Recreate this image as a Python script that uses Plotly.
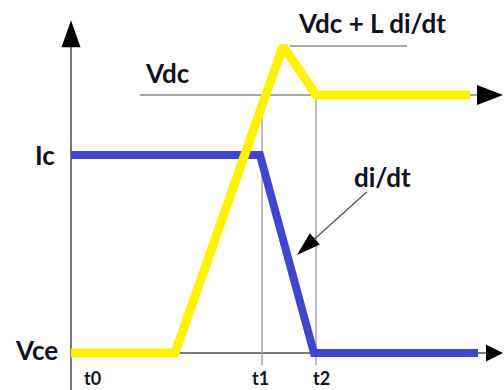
import math
import plotly.graph_objects as go

# Switching waveforms (time in arbitrary units, voltage normalised to Vdc = 1)
t_vce = [0.0, 2.08, 4.24, 4.9, 7.98]
v_vce = [0.0, 0.0, 1.19, 1.0, 1.0]

t_ic = [0.0, 3.78, 4.86, 8.14]
i_c = [0.767, 0.767, 0.0, 0.0]

# Marked instants and levels
t_marks = {"t0": 0.0, "t1": 3.82, "t2": 4.9}
V_DC = 1.0
V_PEAK = 1.19
I_C = 0.767

# Axis extents
X_RANGE = [-1.42, 8.66]
Y_RANGE = [-0.143, 1.368]
X_TIP = 8.64
Y_TIP = 1.29

W, H = 504, 390
PX_X = W / (X_RANGE[1] - X_RANGE[0])
PX_Y = H / (Y_RANGE[1] - Y_RANGE[0])

YELLOW = "#FFF200"
BLUE = "#3F48CC"
AXIS_GREY = "#7a7a7a"
GUIDE_GREY = "#a6a6a6"
TEXT = "#111122"
FONT = "Lato"

fig = go.Figure()

fig.add_trace(go.Scatter(x=t_ic, y=i_c, mode="lines",
                         line=dict(color=BLUE, width=8), hoverinfo="skip"))
fig.add_trace(go.Scatter(x=t_vce, y=v_vce, mode="lines",
                         line=dict(color=YELLOW, width=9), hoverinfo="skip"))

shapes = []


def line(x0, y0, x1, y1, color, width):
    shapes.append(dict(type="line", xref="x", yref="y", x0=x0, y0=y0, x1=x1, y1=y1,
                       line=dict(color=color, width=width), layer="below"))


def head(xt, yt, dx, dy, length, width, color="black"):
    # triangle in pixel units anchored at the tip, pointing along (dx, dy)
    n = math.hypot(dx, dy)
    ux, uy = dx / n, dy / n
    px, py = -uy, ux
    bx, by = -ux * length, -uy * length
    p1 = (bx + px * width / 2, by + py * width / 2)
    p2 = (bx - px * width / 2, by - py * width / 2)
    path = f"M0,0 L{p1[0]:.2f},{p1[1]:.2f} L{p2[0]:.2f},{p2[1]:.2f} Z"
    shapes.append(dict(type="path", xref="x", yref="y", xsizemode="pixel", ysizemode="pixel",
                       xanchor=xt, yanchor=yt, path=path,
                       fillcolor=color, line=dict(color=color, width=0), layer="above"))


# axes
line(0, Y_RANGE[0], 0, Y_TIP - 0.05, AXIS_GREY, 2)
head(0, Y_TIP, 0, 1, 27, 19)
line(0, 0, X_TIP - 0.2, 0, AXIS_GREY, 2)
head(X_TIP, 0, 1, 0, 17, 17)

# Vdc reference with arrow, and overshoot level
line(1.38, V_DC, X_TIP - 0.3, V_DC, GUIDE_GREY, 2)
head(X_TIP, V_DC, 1, 0, 26, 20)
line(4.38, V_PEAK, 6.72, V_PEAK, GUIDE_GREY, 2)

# t1 / t2 guides
for k in ("t1", "t2"):
    line(t_marks[k], V_DC, t_marks[k], -0.047, GUIDE_GREY, 1.5)

# di/dt pointer
tail = (5.92, 0.625)
tip = (4.52, 0.38)
line(tail[0], tail[1], tip[0] + 0.25, tip[1] + 0.045, "#555555", 1.3)
head(tip[0], tip[1], (tip[0] - tail[0]) * PX_X, (tip[1] - tail[1]) * PX_Y, 24, 15)

annotations = []


def label(text, x, y, size=26):
    annotations.append(dict(text=text, x=x, y=y, xref="x", yref="y", showarrow=False,
                            xanchor="center", yanchor="middle",
                            font=dict(family=FONT, size=size, color=TEXT, weight=700)))


label("Vdc + L di/dt", 6.02, 1.279)
label("Vdc", 1.92, 1.085)
label("Ic", -0.52, I_C)
label("di/dt", 6.22, 0.682)
label("Vce", -0.70, 0.012)
for k, tx in (("t0", 0.42), ("t1", 3.78), ("t2", 5.0)):
    label(k, tx, -0.097, size=18)

fig.update_layout(
    width=W, height=H,
    margin=dict(l=0, r=0, t=0, b=0),
    paper_bgcolor="white", plot_bgcolor="white",
    showlegend=False,
    xaxis=dict(range=X_RANGE, visible=False, fixedrange=True),
    yaxis=dict(range=Y_RANGE, visible=False, fixedrange=True),
    shapes=shapes, annotations=annotations,
)

fig.write_html("out.html", config={"displayModeBar": False})
